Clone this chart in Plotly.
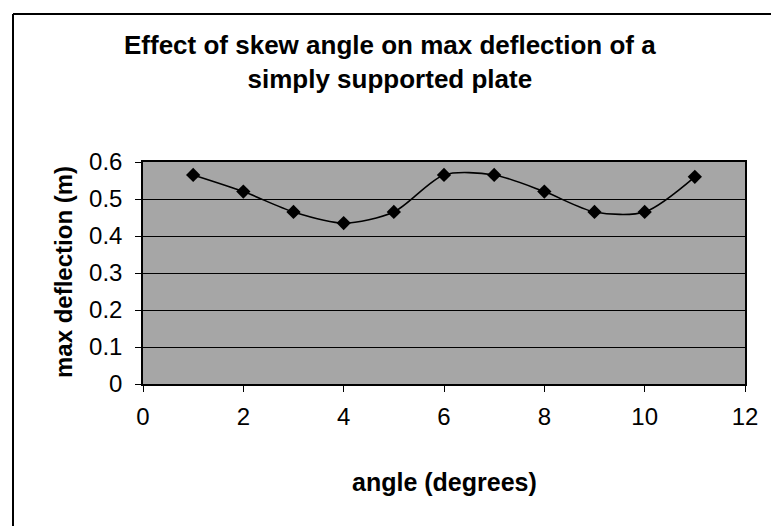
import plotly.graph_objects as go

angle = [1, 2, 3, 4, 5, 6, 7, 8, 9, 10, 11]
max_deflection = [0.565, 0.52, 0.465, 0.435, 0.465, 0.565, 0.565, 0.52, 0.465, 0.465, 0.56]
x_ticks = [0, 2, 4, 6, 8, 10, 12]
y_ticks = [0, 0.1, 0.2, 0.3, 0.4, 0.5, 0.6]
y_ticklabels = ["0", "0.1", "0.2", "0.3", "0.4", "0.5", "0.6"]

title_text = "Effect of skew angle on max deflection of a<br>simply supported plate"
x_title = "angle (degrees)"
y_title = "max deflection (m)"

FONT = "Liberation Sans, Arial, sans-serif"

fig = go.Figure()
fig.add_trace(go.Scatter(
    x=angle, y=max_deflection, mode="lines+markers",
    line=dict(color="black", width=1.6, shape="spline", smoothing=0.8),
    marker=dict(symbol="diamond", size=11, color="black"),
    showlegend=False,
))

L, R, T, B = 143, 26, 162, 142
W, H = 771, 526
pw = W - L - R
ph = H - T - B

fig.update_layout(
    width=W, height=H,
    margin=dict(l=L, r=R, t=T, b=B),
    paper_bgcolor="white",
    plot_bgcolor="rgb(166,166,166)",
    font=dict(family=FONT, color="black", size=24),
    xaxis=dict(
        range=[0, 12], tickvals=x_ticks, ticks="outside", ticklen=6,
        tickcolor="black", showgrid=False, zeroline=False,
        showline=True, linecolor="black", linewidth=1.5, mirror=True,
        tickfont=dict(size=24), ticklabelstandoff=4, fixedrange=True,
    ),
    yaxis=dict(
        range=[0, 0.6], tickvals=y_ticks, ticktext=y_ticklabels, ticks="outside",
        ticklen=6, tickcolor="black", showgrid=True, gridcolor="black", gridwidth=1.3,
        zeroline=False, showline=True, linecolor="black", linewidth=1.5, mirror=True,
        tickfont=dict(size=24), ticklabelstandoff=8, fixedrange=True,
    ),
    annotations=[
        dict(text=title_text, xref="paper", yref="paper",
             x=(390 - L) / pw, y=(H - B - 62) / ph, yanchor="middle", xanchor="center",
             showarrow=False, font=dict(size=26, family=FONT, weight="bold"),
             align="center"),
        dict(text=x_title, xref="paper", yref="paper",
             x=0.5, y=-(482 - (H - B)) / ph, yanchor="middle", xanchor="center",
             showarrow=False, font=dict(size=25, family=FONT, weight="bold")),
        dict(text=y_title, xref="paper", yref="paper", textangle=-90,
             x=-(L - 63) / pw, y=(H - B - 272) / ph, xanchor="center", yanchor="middle",
             showarrow=False, font=dict(size=24, family=FONT, weight="bold")),
    ],
    shapes=[
        dict(type="line", xref="paper", yref="paper",
             x0=(13 - L) / pw, x1=(771 - L) / pw, y0=(H - B - 14) / ph, y1=(H - B - 14) / ph,
             line=dict(color="black", width=2)),
        dict(type="line", xref="paper", yref="paper",
             x0=(13 - L) / pw, x1=(13 - L) / pw, y0=(H - B - 14) / ph, y1=(H - B - 526) / ph,
             line=dict(color="black", width=2)),
    ],
)

fig.write_html("out.html")
